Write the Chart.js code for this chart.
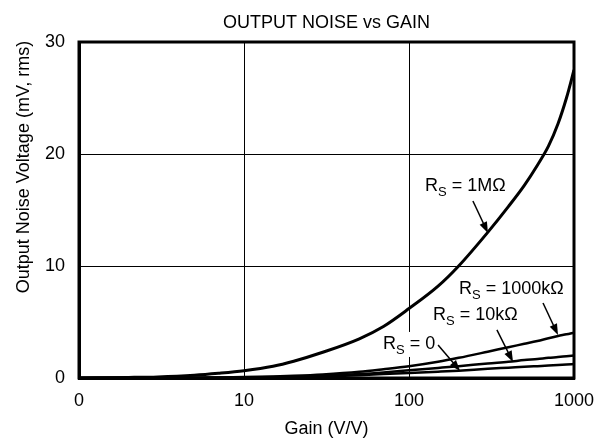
<!DOCTYPE html>
<html>
<head>
<meta charset="utf-8">
<script src="https://cdn.jsdelivr.net/npm/chart.js@4.4.1/dist/chart.umd.min.js"></script>
<style>
  html, body { margin: 0; padding: 0; background: #fff; }
  #wrap { width: 596px; height: 445px; }
</style>
</head>
<body>
<div id="wrap"><canvas id="noise"></canvas></div>
<script>
// gain (V/V) - the "0" tick sits at gain = 1 on the log axis
var gain    = [1, 2, 3, 5, 7, 10, 15, 20, 30, 50, 70, 100, 150, 200, 300, 400, 500, 600, 700, 800, 900, 1000];
var rs1M    = [0, 0.05, 0.1, 0.25, 0.42, 0.65, 1.05, 1.5, 2.3, 3.5, 4.6, 6.2, 8.2, 10.0, 13.0, 15.3, 17.2, 19.0, 20.7, 22.7, 25.0, 27.5];
var rs1000k = [0, 0.01, 0.02, 0.03, 0.05, 0.08, 0.14, 0.2, 0.32, 0.55, 0.78, 1.05, 1.45, 1.8, 2.35, 2.75, 3.05, 3.3, 3.55, 3.75, 3.9, 4.05];
var rs10k   = [0, 0.005, 0.01, 0.02, 0.03, 0.05, 0.08, 0.12, 0.19, 0.35, 0.5, 0.7, 0.9, 1.05, 1.3, 1.45, 1.6, 1.7, 1.8, 1.87, 1.94, 2.0];
var rs0     = [0, 0, 0.005, 0.01, 0.02, 0.03, 0.05, 0.08, 0.13, 0.25, 0.35, 0.45, 0.56, 0.65, 0.82, 0.92, 1.0, 1.06, 1.11, 1.16, 1.21, 1.25];
var xTicks  = [1, 10, 100, 1000];
var yTicks  = [0, 10, 20, 30];

var FONT = '"Liberation Sans", Arial, sans-serif';

// label callouts, in data units (gain, mV)
var notes = [
	{ value : '1MΩ',    at : [125, 17.1], from : [244, 15.8], to : [301, 12.95] },
	{ value : '1000kΩ', at : [201, 7.95], from : [649, 6.7],  to : [800, 3.84] },
	{ value : '10kΩ',   at : [140, 5.6],  from : [341, 4.29], to : [427, 1.43] },
	{ value : '0',      at : [69.6, 3.04], from : [150, 2.95], to : [204, 0.63] }
];

function series(vals, width) {
	return {
		data             : gain.map(function(g, i) { return { x : g, y : vals[i] }; }),
		borderColor      : '#000',
		borderWidth      : width,
		pointRadius      : 0,
		fill             : false,
		cubicInterpolationMode : 'monotone'
	};
}

function noteWidth(ctx, n) {
	ctx.font = '18px ' + FONT;
	var w = ctx.measureText('R').width + ctx.measureText(' = ' + n.value).width;
	ctx.font = '13px ' + FONT;
	return w + ctx.measureText('S').width;
}

var decor = {
	id : 'decor',
	// white boxes behind the callout text break the grid lines
	beforeDatasetsDraw : function(chart) {
		var ctx = chart.ctx, x = chart.scales.x, y = chart.scales.y;
		ctx.save();
		ctx.fillStyle = '#fff';
		notes.forEach(function(n) {
			var px = x.getPixelForValue(n.at[0]), py = y.getPixelForValue(n.at[1]);
			ctx.fillRect(px - 2, py - 12, noteWidth(ctx, n) + 4, 25);
		});
		ctx.restore();
	},
	afterDraw : function(chart) {
		var ctx = chart.ctx, a = chart.chartArea;
		var x = chart.scales.x, y = chart.scales.y;
		ctx.save();
		ctx.strokeStyle = '#000';
		ctx.lineWidth = 3;
		ctx.strokeRect(a.left, a.top, a.right - a.left, a.bottom - a.top);

		ctx.fillStyle = '#000';
		ctx.font = '18px ' + FONT;
		ctx.textAlign = 'center';
		ctx.textBaseline = 'alphabetic';
		ctx.fillText('OUTPUT NOISE vs GAIN', (a.left + a.right) / 2, 28);
		ctx.fillText('Gain (V/V)', (a.left + a.right) / 2, 434);

		ctx.save();
		ctx.translate(24, 167);
		ctx.rotate(-Math.PI / 2);
		ctx.textBaseline = 'middle';
		ctx.fillText('Output Noise Voltage (mV, rms)', 0, 0);
		ctx.restore();

		notes.forEach(function(n) {
			var px = x.getPixelForValue(n.at[0]), py = y.getPixelForValue(n.at[1]);
			ctx.textAlign = 'left';
			ctx.textBaseline = 'middle';
			ctx.font = '18px ' + FONT;
			ctx.fillText('R', px, py);
			px += ctx.measureText('R').width;
			ctx.font = '13px ' + FONT;
			ctx.fillText('S', px, py + 6);
			px += ctx.measureText('S').width;
			ctx.font = '18px ' + FONT;
			ctx.fillText(' = ' + n.value, px, py);

			var x1 = x.getPixelForValue(n.from[0]), y1 = y.getPixelForValue(n.from[1]);
			var x2 = x.getPixelForValue(n.to[0]),   y2 = y.getPixelForValue(n.to[1]);
			var ang = Math.atan2(y2 - y1, x2 - x1);
			ctx.lineWidth = 1.5;
			ctx.beginPath();
			ctx.moveTo(x1, y1);
			ctx.lineTo(x2 - 8 * Math.cos(ang), y2 - 8 * Math.sin(ang));
			ctx.stroke();
			ctx.beginPath();
			ctx.moveTo(x2, y2);
			ctx.lineTo(x2 - 11 * Math.cos(ang) + 4 * Math.sin(ang), y2 - 11 * Math.sin(ang) - 4 * Math.cos(ang));
			ctx.lineTo(x2 - 11 * Math.cos(ang) - 4 * Math.sin(ang), y2 - 11 * Math.sin(ang) + 4 * Math.cos(ang));
			ctx.closePath();
			ctx.fill();
		});
		ctx.restore();
	}
};

var config = {
	type    : 'line',
	data    : {
		datasets : [
			series(rs1M, 3),
			series(rs1000k, 2.5),
			series(rs10k, 2.5),
			series(rs0, 2.5)
		]
	},
	options : {
		responsive          : true,
		maintainAspectRatio : false,
		animation           : false,
		layout  : {
			padding : { top : 42, right : 22, left : 0, bottom : 0 }
		},
		plugins : {
			legend  : { display : false },
			title   : { display : false },
			tooltip : { enabled : false }
		},
		scales  : {
			x : {
				type : 'logarithmic',
				min  : 1,
				max  : 1000,
				afterBuildTicks : function(s) {
					s.ticks = xTicks.map(function(v) { return { value : v }; });
				},
				afterFit : function(s) {
					s.height = 67;
					s.paddingLeft = 0;
					s.paddingRight = 0;
				},
				grid   : { color : '#000', lineWidth : 1, drawTicks : false },
				border : { color : '#000', width : 3 },
				ticks  : {
					color       : '#000',
					font        : { family : FONT, size : 18 },
					padding     : 12,
					maxRotation : 0,
					autoSkip    : false,
					callback    : function(v) { return v === 1 ? '0' : String(v); }
				}
			},
			y : {
				min  : 0,
				max  : 30,
				afterBuildTicks : function(s) {
					s.ticks = yTicks.map(function(v) { return { value : v }; });
				},
				afterFit : function(s) {
					s.width = 79;
					s.paddingTop = 0;
					s.paddingBottom = 0;
				},
				grid   : { color : '#000', lineWidth : 1, drawTicks : false },
				border : { color : '#000', width : 3 },
				ticks  : {
					color   : '#000',
					font    : { family : FONT, size : 18 },
					padding : 14
				}
			}
		}
	},
	plugins : [decor]
};

window.onload = function() {
	var ctx = document.getElementById('noise').getContext('2d');
	window.noiseChart = new Chart(ctx, config);
};
</script>
</body>
</html>
